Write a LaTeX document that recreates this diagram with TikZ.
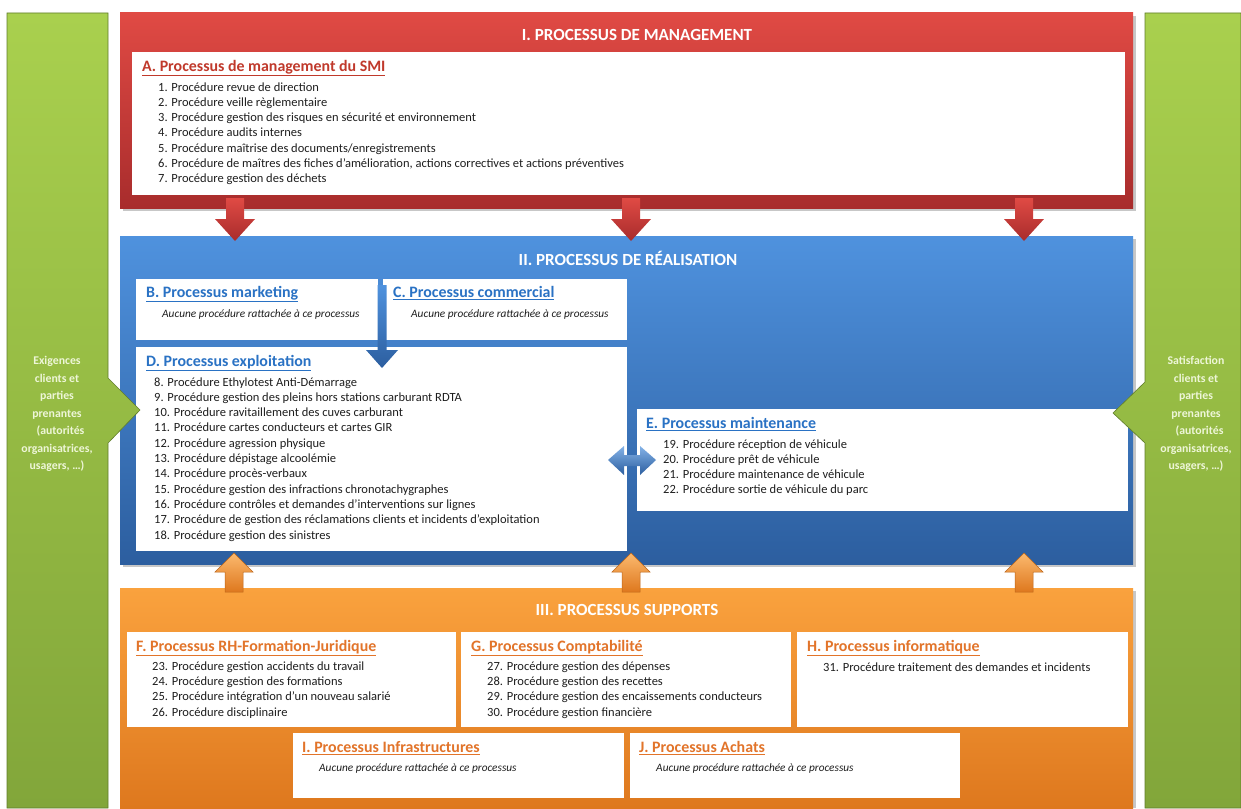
\documentclass[tikz,border=0pt]{standalone}
\usepackage{fontspec}
\setmainfont{Carlito}
\definecolor{redT}{HTML}{E04A44}
\definecolor{redB}{HTML}{A82C2C}
\definecolor{bluT}{HTML}{4F92DE}
\definecolor{bluB}{HTML}{2C5E9F}
\definecolor{orT}{HTML}{FAA23E}
\definecolor{orB}{HTML}{DE781E}
\definecolor{grT}{HTML}{A9D04E}
\definecolor{grB}{HTML}{82A63A}
\definecolor{hRed}{HTML}{C0392B}
\definecolor{hBlue}{HTML}{2A72C4}
\definecolor{hOr}{HTML}{E2742A}
\definecolor{gtext}{HTML}{EEF6D8}
\definecolor{itemc}{HTML}{1E1E1E}
\tikzset{
 wbox/.style={fill=white, inner sep=0pt, anchor=north west},
 item/.style={anchor=west, inner sep=0pt, text height=9pt, text depth=3pt, font=\fontsize{12.5}{14}\selectfont, text=itemc},
 ital/.style={item, font=\fontsize{11.3}{13}\selectfont\itshape},
 hd/.style={anchor=west, inner sep=0pt, text height=11pt, text depth=4pt, font=\fontsize{15.9}{18}\selectfont\bfseries},
 ttl/.style={inner sep=0pt, text=white, font=\fontsize{17}{20}\selectfont\bfseries},
 gtxt/.style={align=center, inner sep=0pt, text=gtext, font=\fontsize{11.8}{17.5}\selectfont\bfseries},
 shad/.style={fill=black!22},
}
\newcommand\mkbox[5]{\node[wbox, minimum width=#4pt, minimum height=#5pt] (#1) at (#2,#3) {};}
\begin{document}
\begin{tikzpicture}[x=1pt,y=-1pt]
\useasboundingbox (0,0) rectangle (1241,808);
\fill[white] (0,0) rectangle (1241,808);

% ---------- I. management (red)
\fill[shad] (123,16) rectangle (1136,211);
\path[top color=redT, bottom color=redB] (120,13) rectangle (1133,208);
\node[ttl] (t1) at (637,35) {I. PROCESSUS DE MANAGEMENT};
\mkbox{A}{132}{52}{993}{143}
\node[hd, text=hRed] (hA) at (142,68) {\underline{A. Processus de management du SMI}};
\foreach \txt [count=\i from 0] in {1. Procédure revue de direction, 2. Procédure veille règlementaire, 3. Procédure gestion des risques en sécurité et environnement, 4. Procédure audits internes, 5. Procédure maîtrise des documents/enregistrements, {6. Procédure de maîtres des fiches d’amélioration, actions correctives et actions préventives}, 7. Procédure gestion des déchets}
  \node[item] at (158,88+15.3*\i) {\txt};

% ---------- II. realisation (blue)
\fill[shad] (123,239) rectangle (1136,567);
\path[top color=bluT, bottom color=bluB] (120,236) rectangle (1133,564);
\node[ttl] (t2) at (628,258) {II. PROCESSUS DE RÉALISATION};
\mkbox{B}{136}{279}{242}{61}
\mkbox{C}{383}{279}{244}{61}
\mkbox{D}{136}{347}{491}{204}
\mkbox{E}{637}{409}{491}{102}
\node[hd, text=hBlue] (hB) at (146,294) {\underline{B. Processus marketing}};
\node[ital] at (162,314) {Aucune procédure rattachée à ce processus};
\node[hd, text=hBlue] (hC) at (393,294) {\underline{C. Processus commercial}};
\node[ital] at (411,314) {Aucune procédure rattachée à ce processus};
\node[hd, text=hBlue] (hD) at (146,363) {\underline{D. Processus exploitation}};
\foreach \txt [count=\i from 0] in {8. Procédure Ethylotest Anti-Démarrage, 9. Procédure gestion des pleins hors stations carburant RDTA, 10. Procédure ravitaillement des cuves carburant, 11. Procédure cartes conducteurs et cartes GIR, 12. Procédure agression physique, 13. Procédure dépistage alcoolémie, 14. Procédure procès-verbaux, 15. Procédure gestion des infractions chronotachygraphes, 16. Procédure contrôles et demandes d’interventions sur lignes, 17. Procédure de gestion des réclamations clients et incidents d’exploitation, 18. Procédure gestion des sinistres}
  \node[item] at (154,383+15.3*\i) {\txt};
\node[hd, text=hBlue] (hE) at (646,425) {\underline{E. Processus maintenance}};
\foreach \txt [count=\i from 0] in {19. Procédure réception de véhicule, 20. Procédure prêt de véhicule, 21. Procédure maintenance de véhicule, 22. Procédure sortie de véhicule du parc}
  \node[item] at (663,445+15.3*\i) {\txt};
% blue arrows
\path[top color=bluT, bottom color=bluB] (377.5,285) -- (386.5,285) -- (386.5,350) -- (398,350) -- (382,368) -- (366,350) -- (377.5,350) -- cycle;
\path[top color=bluT!70!white, bottom color=bluB] (608,460) -- (624,446) -- (624,455) -- (640,455) -- (640,446) -- (656,460) -- (640,475) -- (640,466) -- (624,466) -- (624,475) -- cycle;

% ---------- red arrows down
\foreach \c in {235,631,1024}
  \path[top color=redT, bottom color=redB] (\c-9,198) -- (\c+9,198) -- (\c+9,219) -- (\c+20,219) -- (\c,241) -- (\c-20,219) -- (\c-9,219) -- cycle;

% ---------- III. supports (orange)
\fill[shad] (123,591) rectangle (1136,808);
\path[top color=orT, bottom color=orB] (120,588) rectangle (1133,808);
\node[ttl] (t3) at (627,610) {III. PROCESSUS SUPPORTS};
\mkbox{F}{127}{632}{329}{95}
\mkbox{G}{461}{632}{330}{95}
\mkbox{H}{797}{632}{331}{95}
\mkbox{I}{293}{733}{331}{65}
\mkbox{J}{630}{733}{330}{65}
\node[hd, text=hOr] (hF) at (136,648) {\underline{F. Processus RH-Formation-Juridique}};
\foreach \txt [count=\i from 0] in {23. Procédure gestion accidents du travail, 24. Procédure gestion des formations, 25. Procédure intégration d’un nouveau salarié, 26. Procédure disciplinaire}
  \node[item] at (152,667.3+15.3*\i) {\txt};
\node[hd, text=hOr] (hG) at (471,648) {\underline{G. Processus Comptabilité}};
\foreach \txt [count=\i from 0] in {27. Procédure gestion des dépenses, 28. Procédure gestion des recettes, 29. Procédure gestion des encaissements conducteurs, 30. Procédure gestion financière}
  \node[item] at (487,667.3+15.3*\i) {\txt};
\node[hd, text=hOr] (hH) at (807,648) {\underline{H. Processus informatique}};
\node[item] at (823,668) {31. Procédure traitement des demandes et incidents};
\node[hd, text=hOr] (hI) at (302,749) {\underline{I. Processus Infrastructures}};
\node[ital] at (319,768) {Aucune procédure rattachée à ce processus};
\node[hd, text=hOr] (hJ) at (639,749) {\underline{J. Processus Achats}};
\node[ital] at (656,768) {Aucune procédure rattachée à ce processus};

% ---------- orange arrows up
\foreach \c in {234,631,1024}
  \path[top color=orT!75!white, bottom color=orB, draw=orB!85!black, line width=0.5pt] (\c,553) -- (\c+19,572) -- (\c+9,572) -- (\c+9,592) -- (\c-9,592) -- (\c-9,572) -- (\c-19,572) -- cycle;

% ---------- green side bars
\path[top color=grT, bottom color=grB, draw=grB!75!black, line width=0.6pt] (7,13) -- (108,13) -- (108,378) -- (140,410) -- (108,443) -- (108,808) -- (7,808) -- cycle;
\path[top color=grT, bottom color=grB, draw=grB!75!black, line width=0.6pt] (1145,13) -- (1241,13) -- (1241,808) -- (1145,808) -- (1145,443) -- (1113,413) -- (1145,382) -- cycle;
\node[gtxt] (gl) at (57,414) {Exigences\\clients et\\parties\\prenantes\\\hspace*{7pt}(autorités\\organisatrices,\\usagers, …)};
\node[gtxt] (gr) at (1196,414) {Satisfaction\\clients et\\parties\\prenantes\\\hspace*{7pt}(autorités\\organisatrices,\\usagers, …)};
\end{tikzpicture}
\end{document}
